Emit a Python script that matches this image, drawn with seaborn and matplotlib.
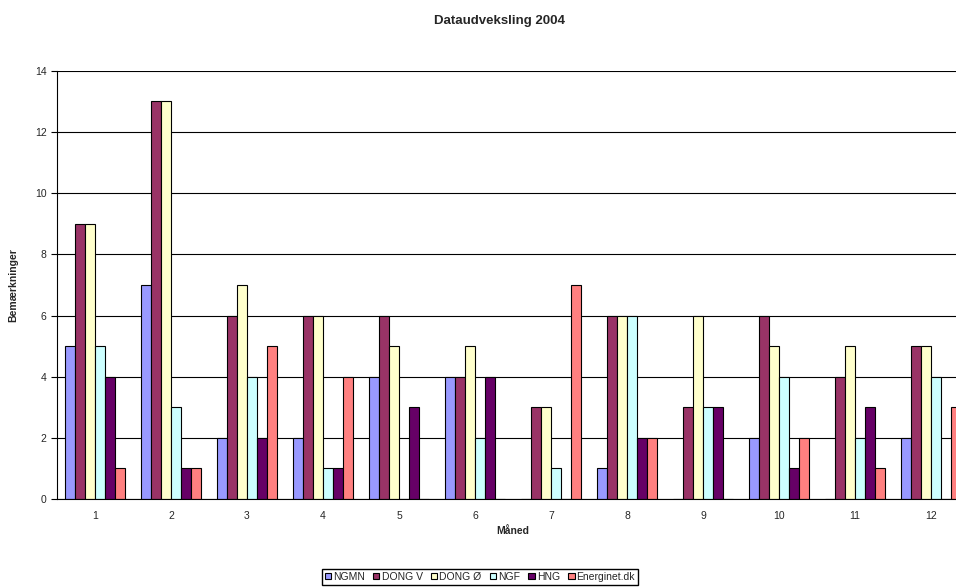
import pandas as pd
import numpy as np
import seaborn as sns
from matplotlib import pyplot as plt

# Data
maaneder = ['1', '2', '3', '4', '5', '6', '7', '8', '9', '10', '11', '12']
selskaber = ['NGMN', 'DONG V', 'DONG Ø', 'NGF', 'HNG', 'Energinet.dk']
ngmn = [5, 7, 2, 2, 4, 4, 0, 1, 0, 2, 0, 2]
dong_v = [9, 13, 6, 6, 6, 4, 3, 6, 3, 6, 4, 5]
dong_oe = [9, 13, 7, 6, 5, 5, 3, 6, 6, 5, 5, 5]
ngf = [5, 3, 4, 1, 0, 2, 1, 6, 3, 4, 2, 4]
hng = [4, 1, 2, 1, 3, 4, 0, 2, 3, 1, 3, 0]
energinet = [1, 1, 5, 4, 0, 0, 7, 2, 0, 2, 1, 3]
farver = ['#9999FF', '#993366', '#FFFFCC', '#CCFFFF', '#660066', '#FF8080']

serier = [ngmn, dong_v, dong_oe, ngf, hng, energinet]
rows = []
for navn, vals in zip(selskaber, serier):
    for m, v in zip(maaneder, vals):
        rows.append({'Måned': m, 'Selskab': navn, 'Bemærkninger': v})
df = pd.DataFrame(rows)

sns.set_style('white')
plt.rcParams['font.family'] = ['Liberation Sans', 'DejaVu Sans']

fig = plt.figure(figsize=(9.56, 5.88), dpi=100)
ax = fig.add_axes([0.0596, 0.1514, 0.954, 0.728])

sns.barplot(data=df, x='Måned', y='Bemærkninger', hue='Selskab', order=maaneder,
            hue_order=selskaber, palette=farver, width=0.8, edgecolor='black',
            linewidth=0.8, saturation=1, ax=ax)

ax.set_ylim(0, 14)
ax.set_xlim(-0.5, 11.5)
ax.set_yticks(range(0, 15, 2))
ax.yaxis.grid(True, color='black', linewidth=0.8)
ax.set_axisbelow(True)
for s in ['top', 'right']:
    ax.spines[s].set_visible(False)
ax.spines['left'].set_color('black')
ax.spines['bottom'].set_color('black')
ax.axhline(14, color='#808080', linewidth=1.2, zorder=0)

# tick marks between the categories
ax.set_xticks(np.arange(-0.5, 12, 1), minor=True)
ax.tick_params(axis='x', which='major', length=0, labelsize=7.5, pad=9)
ax.tick_params(axis='x', which='minor', length=4, width=0.8, color='black', direction='out')
ax.tick_params(axis='y', length=4, width=0.8, color='black', direction='out', labelsize=7.5, left=True)

ax.set_xlabel('Måned', fontsize=7.5, fontweight='bold', labelpad=3)
ax.set_ylabel('Bemærkninger', fontsize=7.5, fontweight='bold', labelpad=12)
fig.suptitle('Dataudveksling 2004', fontsize=9.5, fontweight='bold', x=0.523, y=0.975)

handles, labels = ax.get_legend_handles_labels()
ax.get_legend().remove()
fig.legend(handles, labels, loc='center', bbox_to_anchor=(0.502, 0.019),
           ncol=6, fontsize=7.5, frameon=True, fancybox=False, edgecolor='black',
           handlelength=0.6, handleheight=0.6, handletextpad=0.2, columnspacing=0.8,
           borderpad=0.3, framealpha=1)

fig.savefig('out.png', dpi=100)
